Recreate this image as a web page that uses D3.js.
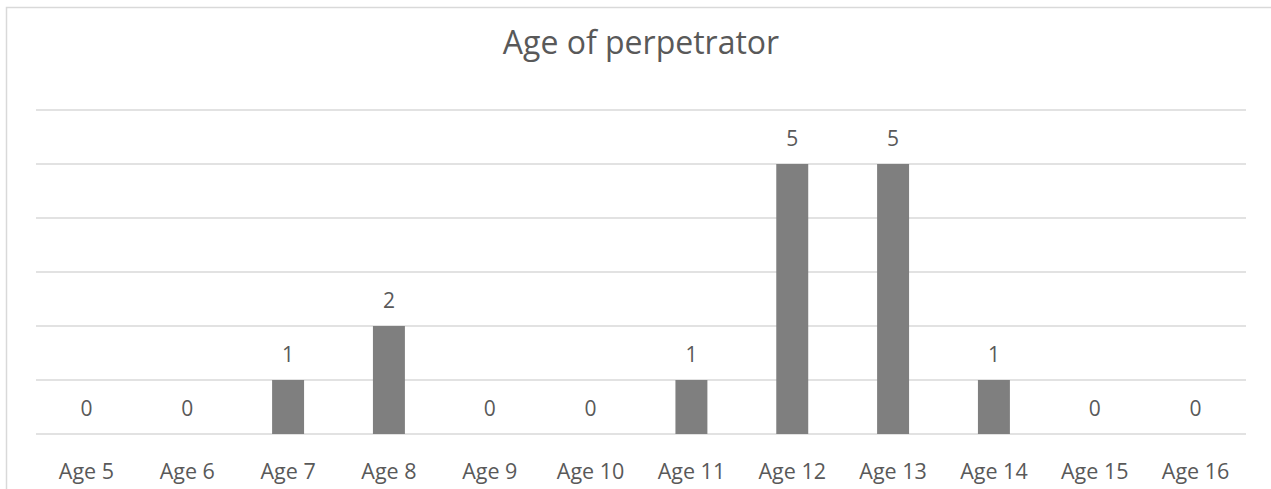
<!DOCTYPE html>
<html>
<head>
<meta charset="utf-8">
<script src="https://cdn.jsdelivr.net/npm/d3@7"></script>
<style>
  html, body { margin: 0; padding: 0; background: #fff; overflow: hidden; }
  svg { display: block; }
</style>
</head>
<body>
<svg id="chart" width="1271" height="489"></svg>
<script>
const title = "Age of perpetrator";
const categories = ["Age 5","Age 6","Age 7","Age 8","Age 9","Age 10","Age 11","Age 12","Age 13","Age 14","Age 15","Age 16"];
const values = [0, 0, 1, 2, 0, 0, 1, 5, 5, 1, 0, 0];
const yTicks = [0, 1, 2, 3, 4, 5, 6];

const svg = d3.select("#chart");
const font = "'Open Sans', 'Noto Sans', sans-serif";
const textColor = "#595959";
const gridColor = "#d9d9d9";

// chart border (extends beyond the visible area)
svg.append("rect")
  .attr("x", 6.5).attr("y", 7.5)
  .attr("width", 1400).attr("height", 700)
  .attr("fill", "none")
  .attr("stroke", gridColor)
  .attr("stroke-width", 1.5);

const plot = { left: 36, right: 1246, top: 110, bottom: 434 };

const x = d3.scaleBand()
  .domain(categories)
  .range([plot.left, plot.right])
  .paddingInner(0.683)
  .paddingOuter(0.683 / 2);

const y = d3.scaleLinear()
  .domain([0, 6])
  .range([plot.bottom, plot.top]);

// gridlines
svg.append("g")
  .selectAll("line")
  .data(yTicks)
  .join("line")
  .attr("x1", plot.left).attr("x2", plot.right)
  .attr("y1", d => y(d)).attr("y2", d => y(d))
  .attr("stroke", gridColor)
  .attr("stroke-width", 1.5);

// bars
svg.append("g")
  .selectAll("rect")
  .data(values)
  .join("rect")
  .attr("x", (d, i) => x(categories[i]))
  .attr("y", d => y(d))
  .attr("width", x.bandwidth())
  .attr("height", d => y(0) - y(d))
  .attr("fill", "#7f7f7f");

// data labels
svg.append("g")
  .selectAll("text")
  .data(values)
  .join("text")
  .attr("x", (d, i) => x(categories[i]) + x.bandwidth() / 2)
  .attr("y", d => y(d) - 18)
  .attr("text-anchor", "middle")
  .attr("font-family", font)
  .attr("font-size", 21)
  .attr("fill", textColor)
  .text(d => d);

// x axis labels
const xAxis = d3.axisBottom(x).tickSize(0).tickPadding(0);
const gx = svg.append("g")
  .attr("transform", `translate(0, ${plot.bottom})`)
  .call(xAxis);
gx.select(".domain").remove();
gx.selectAll("text")
  .attr("y", 45)
  .attr("dy", null)
  .attr("font-family", font)
  .attr("font-size", 21.5)
  .attr("fill", textColor);

// title
svg.append("text")
  .attr("x", (plot.left + plot.right) / 2)
  .attr("y", 54)
  .attr("text-anchor", "middle")
  .attr("font-family", font)
  .attr("font-size", 32)
  .attr("fill", textColor)
  .text(title);
</script>
</body>
</html>
